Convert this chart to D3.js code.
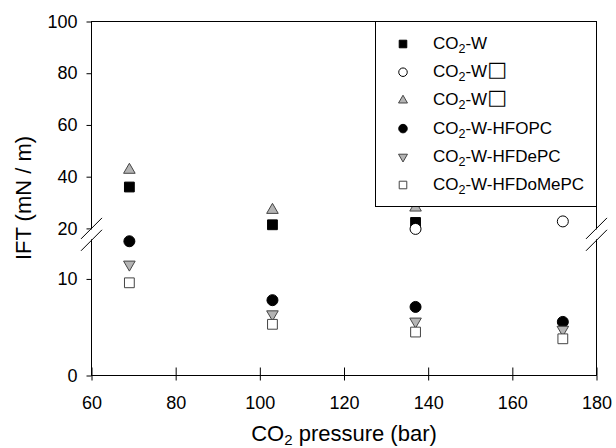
<!DOCTYPE html>
<html>
<head>
<meta charset="utf-8">
<script src="https://cdn.jsdelivr.net/npm/d3@7"></script>
<style>
  body { margin: 0; background: #fff; }
  svg text { font-family: "Liberation Sans", Arial, sans-serif; fill: #000; }
</style>
</head>
<body>
<svg id="chart" width="616" height="448"></svg>
<script>
// values
var pressures = [69, 103, 137, 172];
var co2W      = [36.0, 21.4, 22.3, null];
var co2Wb     = [null, null, 19.8, 22.7];
var co2Wc     = [42.6, 27.1, 28.0, null];
var hfopc     = [13.9, 7.8, 7.1, 5.55];
var hfdepc    = [11.5, 6.35, 5.6, 4.75];
var hfdomepc  = [9.6, 5.3, 4.5, 3.8];

var xTicks = [60, 80, 100, 120, 140, 160, 180];
var yTicksUpper = [20, 40, 60, 80, 100];
var yTicksLower = [0, 10];

var series = [
  { name: "CO2-W",           box: false, values: co2W,     shape: "square",  fill: "#000", stroke: "#000" },
  { name: "CO2-W",           box: true,  values: co2Wb,    shape: "circle",  fill: "#fff", stroke: "#000" },
  { name: "CO2-W",           box: true,  values: co2Wc,    shape: "tri",     fill: "#b4b4b4", stroke: "#444" },
  { name: "CO2-W-HFOPC",     box: false, values: hfopc,    shape: "circle",  fill: "#000", stroke: "#000" },
  { name: "CO2-W-HFDePC",    box: false, values: hfdepc,   shape: "triDown", fill: "#b4b4b4", stroke: "#444" },
  { name: "CO2-W-HFDoMePC",  box: false, values: hfdomepc, shape: "square",  fill: "#fff", stroke: "#444" }
];

var svg = d3.select("#chart");
var plotL = 91.5, plotR = 596.5, plotT = 21.5, plotB = 375.5;

var x = d3.scaleLinear().domain([60, 180]).range([plotL, plotR]);
// broken axis: two linear pieces
var yUpper = d3.scaleLinear().domain([20, 100]).range([228.4, plotT]);
var yLower = d3.scaleLinear().domain([0, 14]).range([plotB, 240.3]);
function y(v) { return v >= 17 ? yUpper(v) : yLower(v); }

var symbolFor = {
  square:  d3.symbol().type(d3.symbolSquare),
  circle:  d3.symbol().type(d3.symbolCircle),
  tri:     d3.symbol().type(d3.symbolTriangle),
  triDown: d3.symbol().type(d3.symbolTriangle)
};
var sizeFor = { square: 96, circle: 95, tri: 58, triDown: 58 };

// frame
svg.append("rect")
  .attr("x", plotL).attr("y", plotT)
  .attr("width", plotR - plotL).attr("height", plotB - plotT)
  .attr("fill", "none").attr("stroke", "#000").attr("stroke-width", 1);

// y axes
var gUp = svg.append("g").attr("transform", "translate(" + plotL + ",0)")
  .call(d3.axisLeft(yUpper).tickValues(yTicksUpper).tickSize(5).tickPadding(9));
var gLo = svg.append("g").attr("transform", "translate(" + plotL + ",0)")
  .call(d3.axisLeft(yLower).tickValues(yTicksLower).tickSize(5).tickPadding(9));

// x axis, ticks crossing the line
var gX = svg.append("g").attr("transform", "translate(0," + plotB + ")")
  .call(d3.axisBottom(x).tickValues(xTicks).tickSize(5).tickPadding(16));
svg.append("g").attr("transform", "translate(0," + plotB + ")")
  .call(d3.axisBottom(x).tickValues(xTicks).tickSize(-8).tickFormat(""))
  .call(function(g) { g.select(".domain").remove(); g.selectAll(".tick line").attr("stroke", "#000"); });

[gUp, gLo, gX].forEach(function(g) {
  g.select(".domain").remove();
  g.selectAll(".tick line").attr("stroke", "#000");
  g.selectAll(".tick text").attr("fill", "#000").style("font-size", "18px");
});

// axis break marks
var bTop = yUpper(20), bBot = yLower(14);
[plotL, plotR].forEach(function(ax) {
  svg.append("rect")
    .attr("x", ax - 2).attr("y", bTop + 1)
    .attr("width", 4).attr("height", bBot - bTop - 2)
    .attr("fill", "#fff");
  [bTop, bBot].forEach(function(cy) {
    svg.append("line")
      .attr("x1", ax - 10.5).attr("y1", cy + 10.5)
      .attr("x2", ax + 10.5).attr("y2", cy - 10.5)
      .attr("stroke", "#000").attr("stroke-width", 1);
  });
});

// points
series.forEach(function(s) {
  svg.append("g").selectAll("path")
    .data(s.values.map(function(v, i) { return { p: pressures[i], v: v }; })
      .filter(function(d) { return d.v != null; }))
    .enter().append("path")
    .attr("d", symbolFor[s.shape].size(sizeFor[s.shape]))
    .attr("transform", function(d) {
      return "translate(" + x(d.p) + "," + y(d.v) + ")" + (s.shape === "triDown" ? " rotate(180)" : "");
    })
    .attr("fill", s.fill).attr("stroke", s.stroke).attr("stroke-width", 1);
});

// axis titles
svg.append("text")
  .attr("transform", "translate(31,198) rotate(-90)")
  .attr("text-anchor", "middle")
  .style("font-size", "22px")
  .text("IFT (mN / m)");

var xt = svg.append("text")
  .attr("x", (plotL + plotR) / 2).attr("y", 441)
  .attr("text-anchor", "middle")
  .style("font-size", "22px");
xt.append("tspan").text("CO");
xt.append("tspan").attr("dy", 4).style("font-size", "15px").text("2");
xt.append("tspan").attr("dy", -4).text(" pressure (bar)");

// legend
var legX = 375.5, legY = plotT, legW = plotR - 375.5, legH = 206.5 - plotT;
var leg = svg.append("g");
leg.append("rect")
  .attr("x", legX).attr("y", legY).attr("width", legW).attr("height", legH)
  .attr("fill", "#fff").attr("stroke", "#000").attr("stroke-width", 1);

var rows = leg.selectAll("g.row").data(series).enter().append("g")
  .attr("class", "row")
  .attr("transform", function(d, i) { return "translate(0," + (44 + i * 28.2) + ")"; });

rows.append("path")
  .attr("d", function(d) { return symbolFor[d.shape].size(sizeFor[d.shape] * 0.6)(); })
  .attr("transform", function(d) { return "translate(403,0)" + (d.shape === "triDown" ? " rotate(180)" : ""); })
  .attr("fill", function(d) { return d.fill; })
  .attr("stroke", function(d) { return d.stroke; });

var lt = rows.append("text")
  .attr("x", 433).attr("y", 5)
  .style("font-size", "17px");
lt.append("tspan").text("CO");
lt.append("tspan").attr("dy", 4).style("font-size", "12.5px").text("2");
lt.append("tspan").attr("dy", -4).text(function(d) { return d.name.slice(3); });
lt.filter(function(d) { return d.box; })
  .append("tspan").attr("dy", -1)
  .style("font-family", "'DejaVu Sans'").style("font-size", "21px").style("fill", "#000")
  .text("\u25A1");
</script>
</body>
</html>
